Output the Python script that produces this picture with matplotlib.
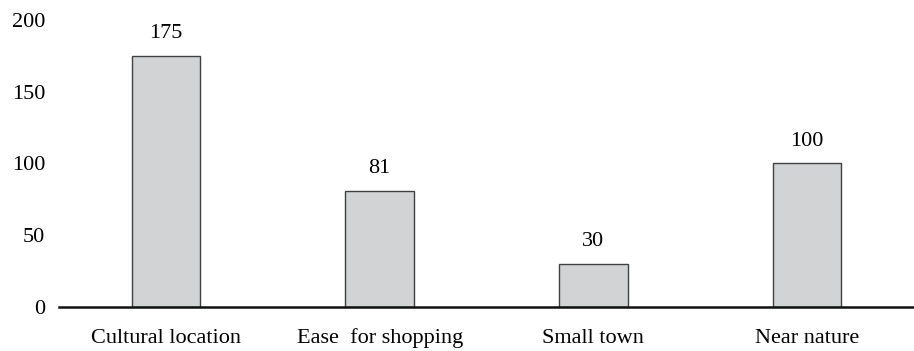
import matplotlib
matplotlib.use('Agg')
import matplotlib.pyplot as plt

categories = ['Cultural location', 'Ease  for shopping', 'Small town', 'Near nature']
values = [175, 81, 30, 100]
yticks = [0, 50, 100, 150, 200]

plt.rcParams['font.family'] = ['Liberation Serif', 'DejaVu Serif']

fig = plt.figure(figsize=(9.14, 3.51), dpi=100)
ax = fig.add_axes([0.0646, 0.1254, 0.9354, 0.8177])

x = list(range(len(categories)))
bars = ax.bar(x, values, width=0.32, color='#d2d3d5', edgecolor='#404040', linewidth=1.0, zorder=2)
for xi, v in zip(x, values):
    ax.text(xi, v + 9, str(v), ha='center', va='bottom', fontsize=16)

ax.set_xlim(-0.5, len(categories) - 0.5)
ax.set_ylim(0, 200)
ax.set_yticks(yticks)
ax.set_xticks(x)
ax.set_xticklabels(categories)
ax.tick_params(axis='both', length=0, labelsize=16)
ax.tick_params(axis='y', pad=10)
ax.tick_params(axis='x', pad=15.5)
for s in ['top', 'right', 'left']:
    ax.spines[s].set_visible(False)
ax.spines['bottom'].set_linewidth(1.8)
ax.spines['bottom'].set_color('#111111')

fig.savefig('out.png', dpi=100)
